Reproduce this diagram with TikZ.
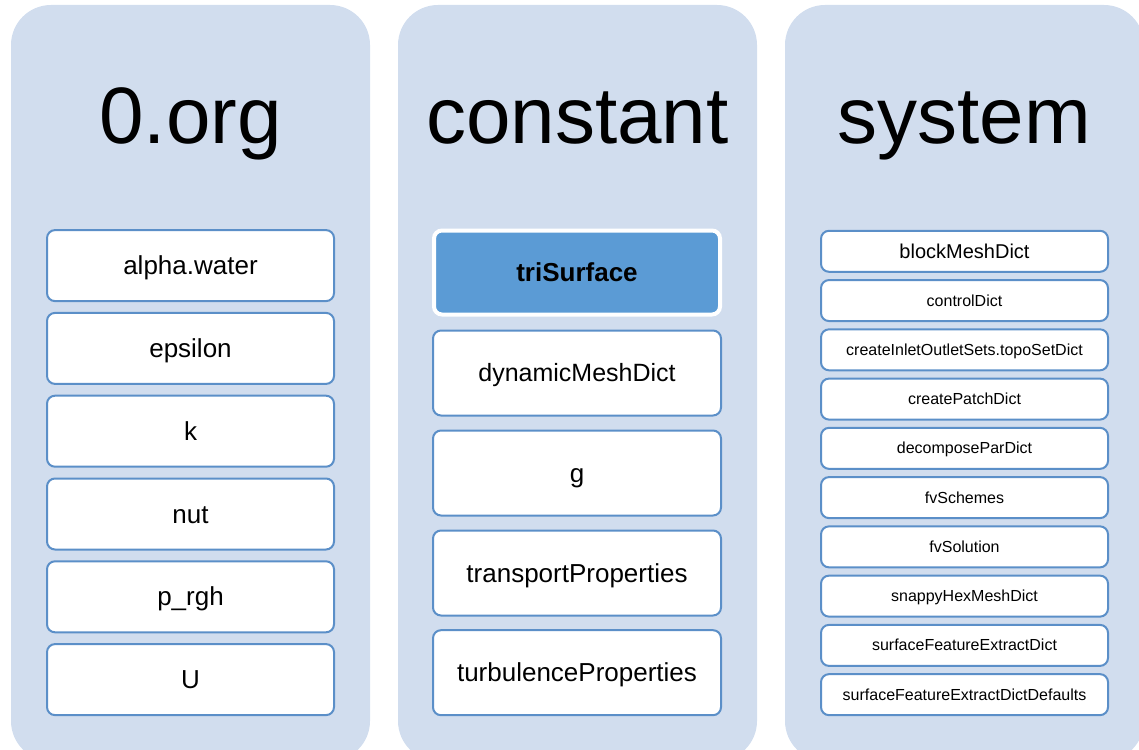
\documentclass[tikz,border=0pt]{standalone}
\usepackage{fontspec}
\setmainfont{Liberation Sans}
\definecolor{panelfill}{HTML}{D1DDEE}
\definecolor{boxline}{HTML}{5B8FC8}
\definecolor{hilite}{HTML}{5B9BD5}
\tikzset{
  panel/.style={fill=panelfill, rounded corners=40pt, inner sep=0pt,
                minimum width=359pt, minimum height=756pt},
  title/.style={anchor=base, inner sep=0pt, font=\fontsize{80}{90}\selectfont},
  % line box of the text set from the font's ascent and descent
  linebox/.style={text height=0.905*#1, text depth=0.212*#1},
  item/.style={draw=boxline, line width=2pt, fill=white, rounded corners=8pt,
               inner sep=0pt, text=black},
  leftitem/.style={item, minimum width=287pt, minimum height=71pt,
                   font=\fontsize{26}{30}\selectfont, linebox=26pt},
  miditem/.style={item, minimum width=288pt, minimum height=85pt,
                  font=\fontsize{26}{30}\selectfont, linebox=26pt},
  rightitem/.style={item, minimum width=287pt, minimum height=41pt,
                    font=\fontsize{16}{19}\selectfont, linebox=16pt},
  selitem/.style={draw=white, line width=4pt, fill=hilite, rounded corners=8pt,
                  inner sep=0pt, minimum width=286pt, minimum height=84pt,
                  font=\bfseries\fontsize{26}{30}\selectfont, linebox=26pt},
}
\begin{document}
\begin{tikzpicture}[x=1pt,y=-1pt]
\useasboundingbox (0,0) rectangle (1139,749);
\clip (0,0) rectangle (1139,749);

% column backgrounds
\node[panel] (pOrg)   at (190.5,383) {};
\node[panel] (pConst) at (577.5,383) {};
\node[panel] (pSys)   at (964.5,383) {};

% column headings
\node[title] (tOrg)   at (190.5,143.3) {0.org};
\node[title] (tConst) at (577.5,143.3) {constant};
\node[title] (tSys)   at (964.0,143.3) {system};

% 0.org files
\foreach \name [count=\i from 0] in {alpha.water,epsilon,k,nut,p\_rgh,U}
  \node[leftitem] (o\i) at (190.5,{265.6+82.8*\i}) {\name};

% constant files
\node[selitem] (c0) at (577,272.5) {triSurface};
\node[miditem, font=\fontsize{25}{30}\selectfont, linebox=25pt] (c1) at (577,373) {dynamicMeshDict};
\node[miditem] (c2) at (577,473) {g};
\node[miditem] (c3) at (577,573) {transportProperties};
\node[miditem] (c4) at (577,672.7) {turbulenceProperties};

% system files
\node[rightitem, font=\fontsize{20}{24}\selectfont, linebox=20pt] (s0) at (964.5,251.3) {blockMeshDict};
\foreach \name [count=\i from 1] in {controlDict,createInletOutletSets.topoSetDict,
    createPatchDict,decomposeParDict,fvSchemes,fvSolution,snappyHexMeshDict,
    surfaceFeatureExtractDict,surfaceFeatureExtractDictDefaults}
  \node[rightitem] (s\i) at (964.5,{251.3+49.26*\i}) {\name};
\end{tikzpicture}
\end{document}
